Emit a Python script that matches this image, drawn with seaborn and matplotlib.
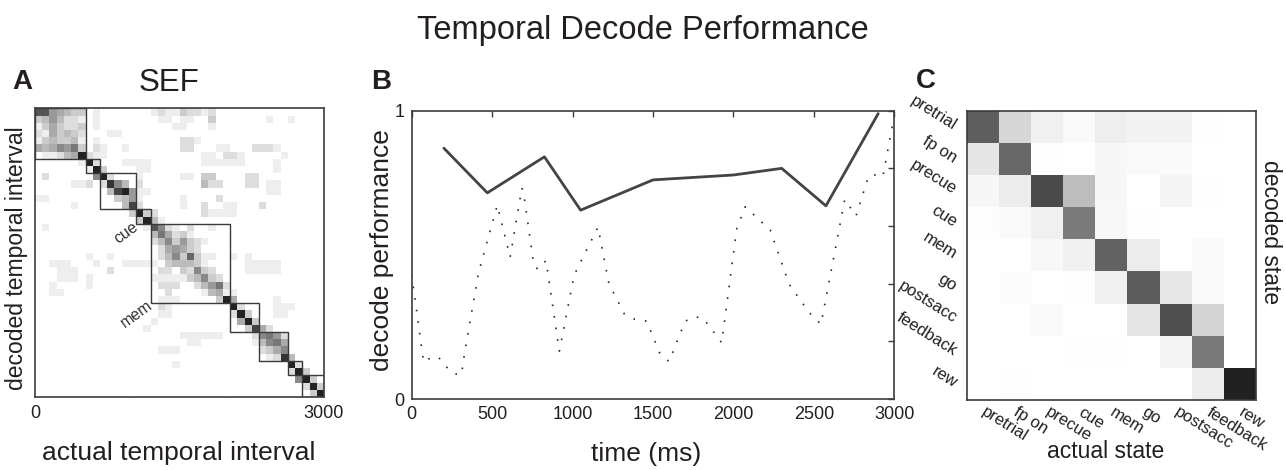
import numpy as np
import matplotlib
matplotlib.use("Agg")
import matplotlib.pyplot as plt
import seaborn as sns
from matplotlib.patches import Rectangle

sns.set_theme(style="white")
plt.rcParams['font.family'] = ['Liberation Sans', 'DejaVu Sans']

# ---------------- data ----------------
state_names = ["pretrial", "fp on", "precue", "cue", "mem", "go",
               "postsacc", "feedback", "rew"]
# state boundaries in 75-ms bins (40 bins = 3000 ms)
state_bounds = [0, 7, 9, 14, 16, 27, 31, 35, 37, 40]
bin_ms = 75
total_ms = 3000

# SEF temporal decode matrix, one hex digit per 75 ms bin (0 = white, f = black)
sef_rows = [
    "aa65433 0100000001 21132212 000000000000000",
    "3464221 0100000000 11011003 000000010010000",
    "1353223 0100000000 00110001 000000000000000",
    "2153432 0001100000 00000000 000000000000000",
    "1343341 0100000000 00022100 000000000000000",
    "5457683 0210010000 00022000 110002221000000",
    "011245d 2110000000 00000011 022100000100000",
    "0000001 d200011110 00000011 111100001000000",
    "0000000 1d30000110 00000000 000000001000000",
    "0200000 07d2000100 00011033 000022000000000",
    "0000011 202c740200 00000042 200022011000000",
    "0000000 0004bd6110 00000000 000000011000000",
    "1100000 0000346100 00010000 200000000000000",
    "0000010 000004b200 00010020 011000200000000",
    "0000000 0000003d32 00000021 111000000000000",
    "0000000 00000003d4 10000000 000000000000000",
    "0100000 000000001a 72102001 000000000000000",
    "0000000 0000000004 85231000 000000000000000",
    "0000000 0000000002 47363210 000000000000000",
    "0000000 0000000000 25653200 000000000000000",
    "0000000 1001000000 24739311 001010000000000",
    "0011100 0100011111 03444310 000011111000000",
    "0001110 0002000000 22032732 000011111000000",
    "0001110 1000000001 11113473 200000000000000",
    "0010000 1000000000 22200246 820000000000000",
    "0011000 0000000000 02000014 511000000000000",
    "0000000 0000000000 11100000 3d5000001000000",
    "0000000 0000000000 21000000 00d200001110000",
    "0000000 0000000000 11000000 002d30001100000",
    "0000000 0000000001 00000000 0005d3000000000",
    "0000000 0000000010 00000000 00003b520000000",
    "0000000 0000000000 00011111 100002786200000",
    "0000000 0000000000 00001100 000001478500000",
    "0000000 0000000000 11100000 000000235700000",
    "0000000 0000000000 00000000 000000012c40000",
    "0000000 0000000000 00100000 0000000000d2000",
    "0000000 0000000000 00000000 00000000002d300",
    "0000000 0000000000 00000000 000000000007d30",
    "0000000 0000000000 00000000 0000000000002d3",
    "0000000 0000000000 00000000 00000000000003d",
]

# Panel B: decode performance
state_time_ms = [200, 470, 825, 1050, 1500, 2000, 2300, 2575, 2900]
state_perf = [0.87, 0.715, 0.84, 0.655, 0.76, 0.777, 0.80, 0.67, 0.99]

interval_time_ms = [0, 74, 118, 165, 210, 262, 309, 330, 416, 532, 612, 685,
                    697, 759, 784, 835, 918, 1010, 1158, 1226, 1322, 1388,
                    1461, 1545, 1600, 1700, 1760, 1813, 1927, 2021, 2073,
                    2229, 2346, 2471, 2544, 2692, 2762, 2840, 2881, 2929, 2995]
interval_perf = [0.43, 0.128, 0.143, 0.146, 0.114, 0.088, 0.084, 0.164, 0.44,
                 0.672, 0.492, 0.732, 0.71, 0.465, 0.45, 0.48, 0.166, 0.43,
                 0.596, 0.40, 0.295, 0.276, 0.27, 0.155, 0.13, 0.27, 0.285,
                 0.28, 0.195, 0.592, 0.667, 0.586, 0.398, 0.30, 0.259, 0.692,
                 0.635, 0.773, 0.777, 0.771, 0.97]

# Panel C: confusion matrix (rows decoded, cols actual)
state_confusion = [
    [0.63, 0.16, 0.06, 0.02, 0.07, 0.05, 0.05, 0.01, 0.00],
    [0.10, 0.59, 0.01, 0.00, 0.035, 0.02, 0.02, 0.00, 0.00],
    [0.035, 0.075, 0.71, 0.26, 0.035, 0.00, 0.04, 0.01, 0.00],
    [0.01, 0.02, 0.06, 0.52, 0.03, 0.01, 0.00, 0.00, 0.00],
    [0.00, 0.00, 0.03, 0.055, 0.615, 0.075, 0.00, 0.02, 0.00],
    [0.00, 0.015, 0.00, 0.01, 0.055, 0.64, 0.09, 0.02, 0.00],
    [0.00, 0.00, 0.02, 0.00, 0.00, 0.10, 0.69, 0.17, 0.00],
    [0.00, 0.00, 0.00, 0.01, 0.01, 0.00, 0.04, 0.53, 0.00],
    [0.00, 0.01, 0.00, 0.00, 0.00, 0.00, 0.00, 0.075, 0.87],
]

# ---------------- figure ----------------
W, H = 1286, 470
fig = plt.figure(figsize=(W / 100, H / 100), dpi=100)
TXT = '#231f20'
SPINE = '#3c3c3c'


def px_axes(x0, y0, x1, y1):
    return fig.add_axes([x0 / W, 1 - y1 / H, (x1 - x0) / W, (y1 - y0) / H])


def ftext(x, y, s, **kw):
    kw.setdefault('ha', 'center')
    kw.setdefault('va', 'center')
    kw.setdefault('color', TXT)
    fig.text(x / W, 1 - y / H, s, **kw)


def frame(ax):
    for s in ax.spines.values():
        s.set_visible(True)
        s.set_color(SPINE)
        s.set_linewidth(1.2)


# ---- Panel A ----
sef = np.array([[int(c, 16) for c in r.replace(" ", "")] for r in sef_rows]) / 15.0
axA = px_axes(35, 108.3, 324, 397)
sns.heatmap(sef, ax=axA, cmap='gray_r', vmin=0, vmax=1, cbar=False,
            xticklabels=False, yticklabels=False)
frame(axA)
for a, b in zip(state_bounds[:-1], state_bounds[1:]):
    axA.add_patch(Rectangle((a, a), b - a, b - a, fill=False,
                            ec='#3a3a3a', lw=1.0))
nb = len(sef_rows)
axA.set_xlim(0, nb)
axA.set_ylim(nb, 0)
axA.set_xticks([0, nb])
axA.set_xticklabels(['0', str(total_ms)], fontsize=13, color=TXT)
axA.set_xticks([m / bin_ms + 0.5 for m in (1000, 2000)], minor=True)
axA.set_yticks([m / bin_ms + 0.5 for m in (500, 1000, 1500, 2000, 2500)], minor=True)
axA.set_yticks([])
axA.tick_params(which='both', direction='in', length=4, width=1, color=SPINE,
                top=True, right=True, bottom=True, left=True, pad=6)
axA.tick_params(axis='x', which='major', length=0)
axA.text(12.6, 17.3, 'cue', rotation=36, fontsize=11.5, color='#333333',
         ha='center', va='center')
axA.text(14.0, 28.5, 'mem', rotation=36, fontsize=11.5, color='#333333',
         ha='center', va='center')

# ---- Panel B ----
axB = px_axes(411.7, 110.7, 894.3, 399)
sns.lineplot(x=interval_time_ms, y=interval_perf, ax=axB, color='#2a2a2a',
             linewidth=1.2, linestyle=(0, (1, 6)))
sns.lineplot(x=state_time_ms, y=state_perf, ax=axB, color='#444444',
             linewidth=2.0)
frame(axB)
axB.set_xlim(0, total_ms)
axB.set_ylim(0, 1)
axB.set_xticks(range(0, total_ms + 1, 500))
axB.set_xticklabels([str(v) for v in range(0, total_ms + 1, 500)],
                    fontsize=13, color=TXT)
axB.set_yticks([0, 0.2, 0.4, 0.6, 0.8, 1.0])
axB.set_yticklabels(['0', '', '', '', '', '1'], fontsize=13, color=TXT)
axB.tick_params(which='both', direction='in', length=4, width=1, color=SPINE,
                top=True, right=True, pad=5)
axB.set_xlabel('')
axB.set_ylabel('')

# ---- Panel C ----
conf = np.array(state_confusion)
axC = px_axes(966.7, 110.7, 1256, 400)
sns.heatmap(conf, ax=axC, cmap='gray_r', vmin=0, vmax=1, cbar=False,
            xticklabels=state_names, yticklabels=state_names)
frame(axC)
ns = len(state_names)
axC.set_xticks(np.arange(ns) + 0.5)
axC.set_yticks(np.arange(ns) + 0.5)
axC.set_xticklabels(state_names, rotation=-32, ha='left', va='center',
                    rotation_mode='anchor', fontsize=12, color=TXT)
axC.set_yticklabels(state_names, rotation=-32, ha='right', va='center',
                    rotation_mode='anchor', fontsize=12, color=TXT)
axC.tick_params(which='major', length=0, pad=8)
axC.set_xticks(np.arange(1, ns, 2) + 0.5, minor=True)
axC.set_yticks(np.arange(1, ns, 2) + 0.5, minor=True)
axC.tick_params(which='minor', direction='in', length=4, width=1, color=SPINE,
                top=True, right=True, bottom=True, left=True)

# ---------------- texts ----------------
ftext(643, 31, 'Temporal Decode Performance', fontsize=23.5)
ftext(22, 82, 'A', fontsize=20, fontweight='bold')
ftext(169, 83, 'SEF', fontsize=22.5)
ftext(381, 82, 'B', fontsize=20, fontweight='bold')
ftext(926, 81, 'C', fontsize=20, fontweight='bold')
ftext(17, 258, 'decoded temporal interval', fontsize=16.5, rotation=90)
ftext(179, 453, 'actual temporal interval', fontsize=19)
ftext(382, 250, 'decode performance', fontsize=19, rotation=90)
ftext(646, 454, 'time (ms)', fontsize=19)
ftext(1106, 451, 'actual state', fontsize=16.5)
ftext(1271, 232, 'decoded state', fontsize=16.5, rotation=-90)

fig.savefig('out.png', dpi=100)
